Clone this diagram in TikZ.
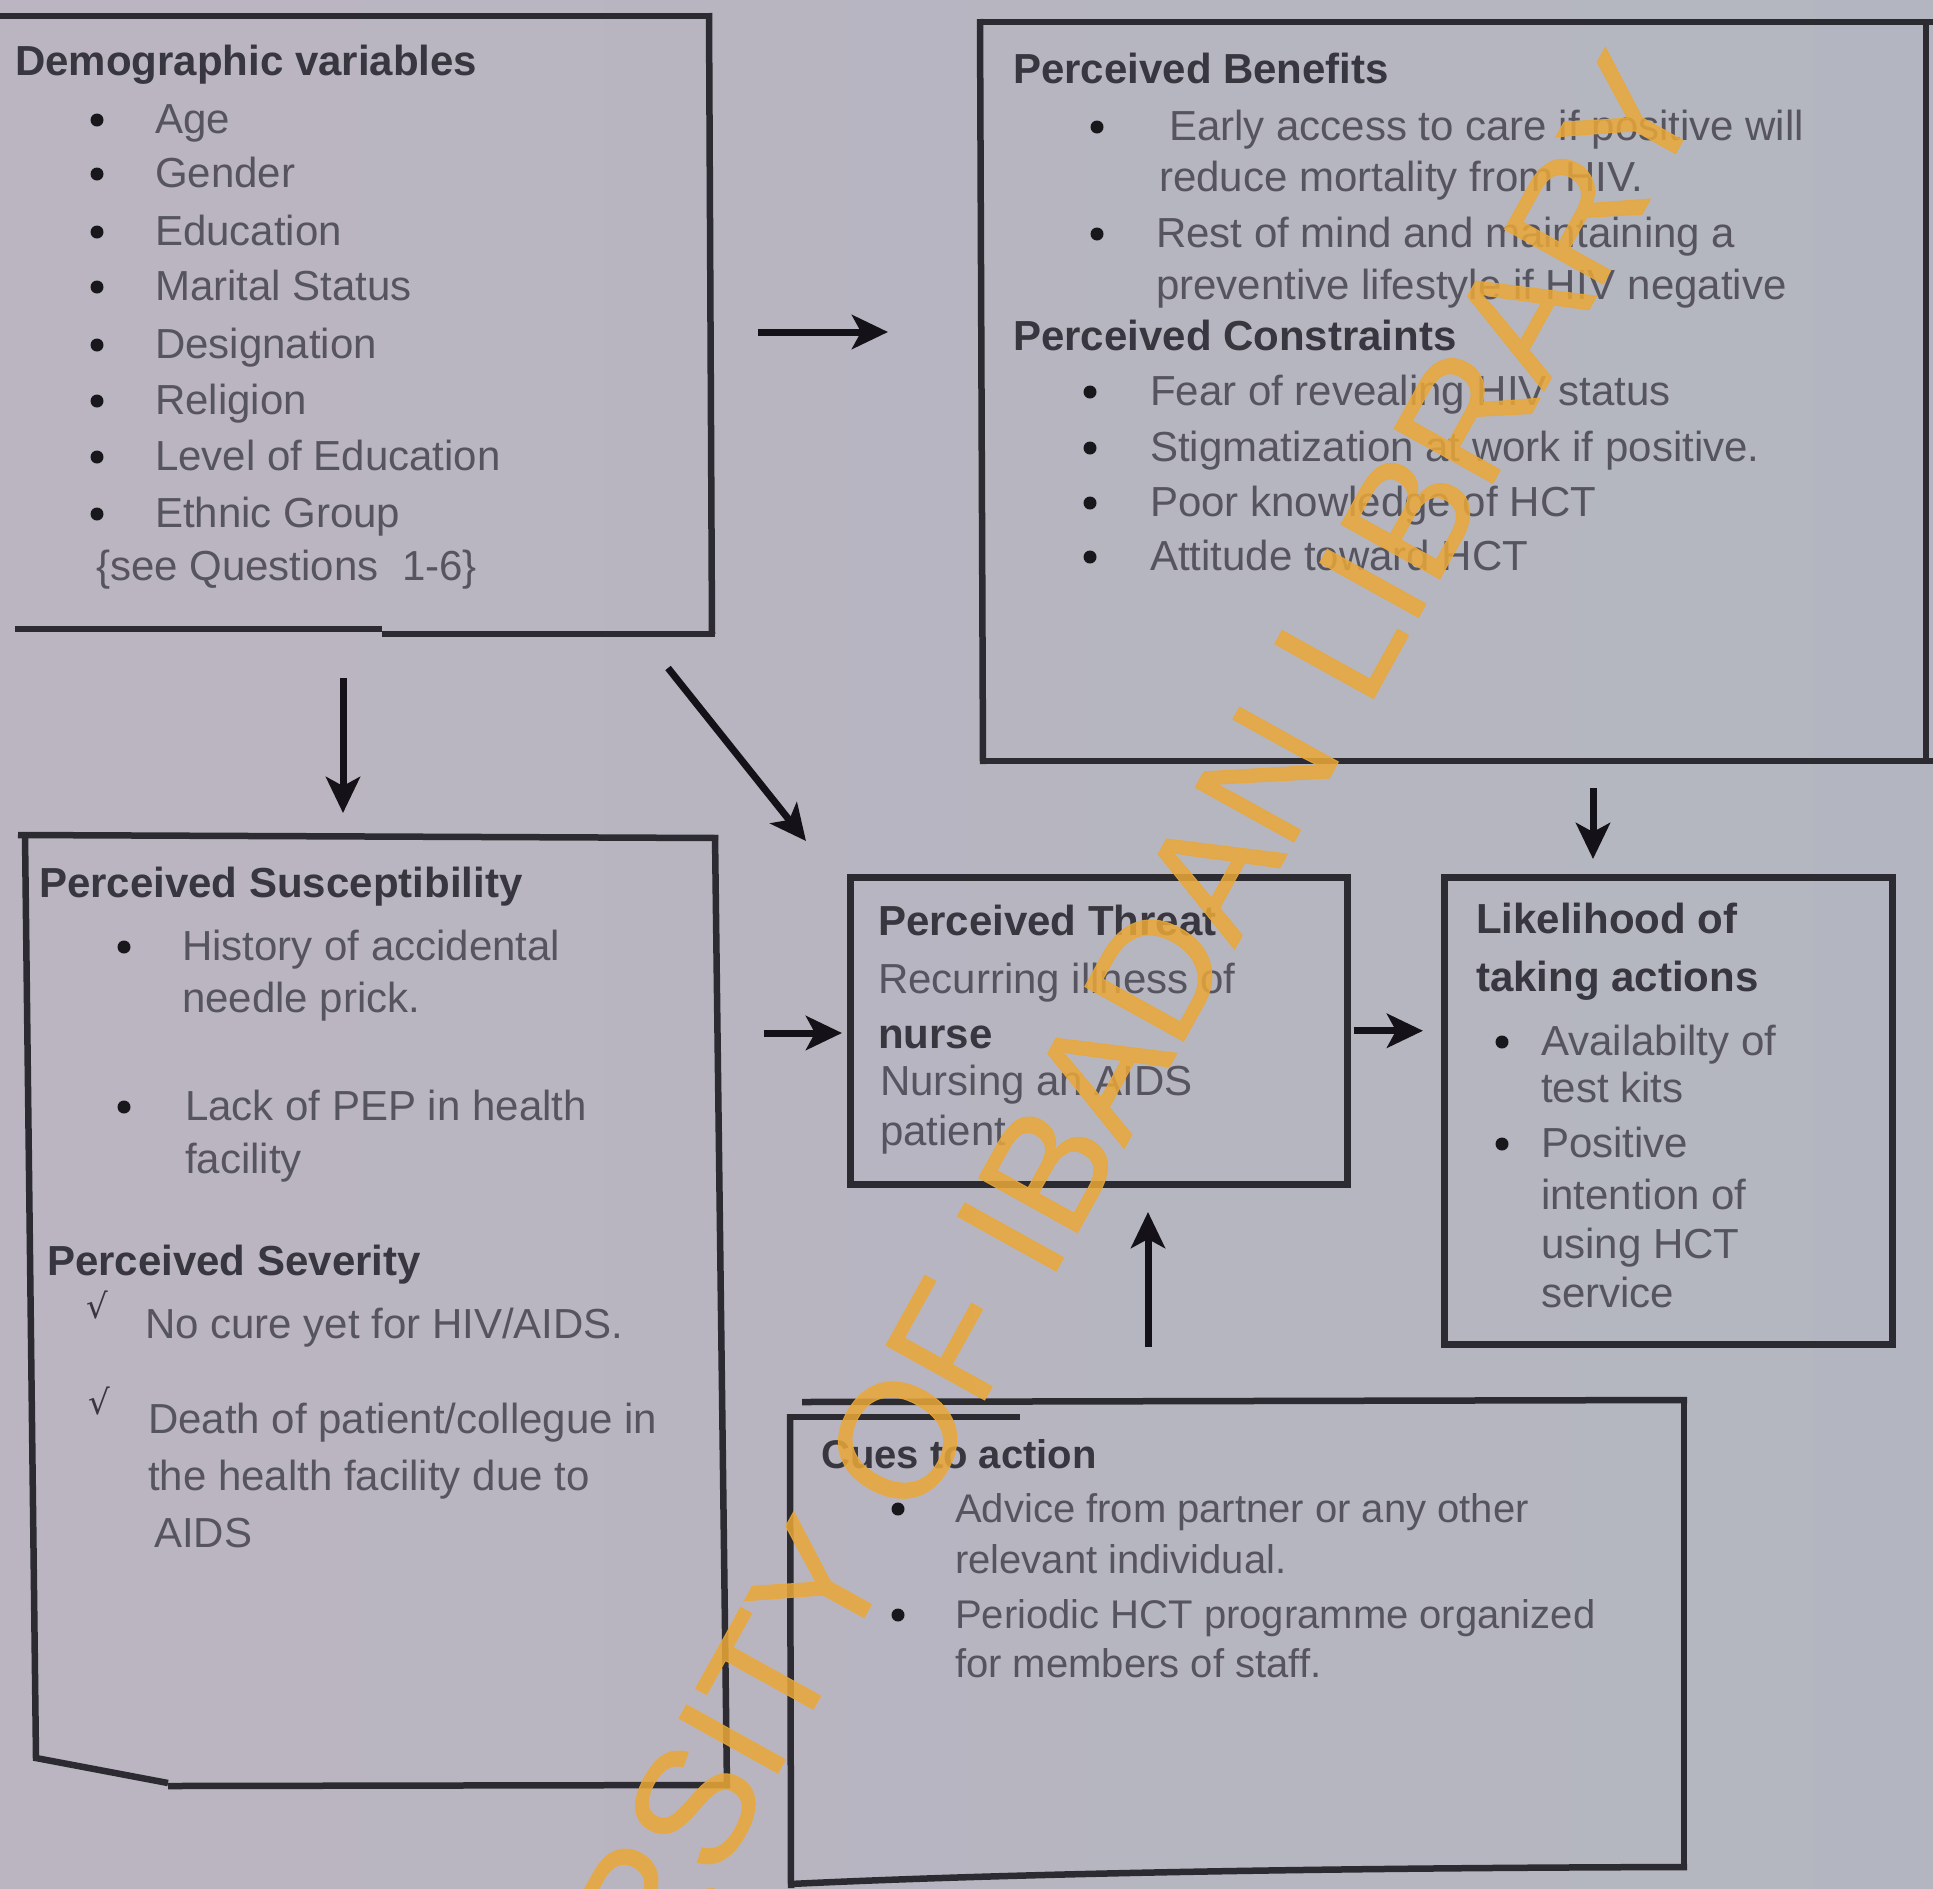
\documentclass[tikz,border=0pt]{standalone}
\usepackage{fontspec}
\setmainfont{Liberation Sans}
\newfontfamily\dejavu{DejaVu Sans}
\newfontfamily\wmfont{Liberation Sans}[FakeBold=0.6]
\usetikzlibrary{arrows.meta,calc}
\definecolor{bgl}{RGB}{187,181,193}
\definecolor{bgr}{RGB}{179,182,192}
\definecolor{linec}{RGB}{44,43,49}
\definecolor{headc}{RGB}{56,54,62}
\definecolor{bodyc}{RGB}{86,84,94}
\definecolor{bulc}{RGB}{24,23,28}
\definecolor{arrc}{RGB}{20,18,24}
\definecolor{wmc}{RGB}{234,168,56}
\begin{document}
\begin{tikzpicture}[x=1pt,y=-1pt,
  every node/.style={inner sep=0pt, anchor=base west},
  body/.style={text=bodyc, font=\fontsize{42}{50}\selectfont},
  head/.style={text=headc, font=\fontsize{42}{50}\selectfont\bfseries},
  cbody/.style={text=bodyc, font=\fontsize{40}{48}\selectfont},
  chead/.style={text=headc, font=\fontsize{40}{48}\selectfont\bfseries},
  tick/.style={text=headc, font=\dejavu\fontsize{34}{40}\selectfont},
  box/.style={draw=linec, line width=6.5pt},
  boxnode/.style={box, anchor=north west, inner sep=0pt},
  arr/.style={draw=arrc, line width=7pt, -{Stealth[length=36pt,width=34pt,inset=9pt]}},
  bul/.style={fill=bulc}
]
\useasboundingbox (0,0) rectangle (1933,1888);
\shade[left color=bgl, right color=bgr] (0,0) rectangle (1933,1888);

% ---------- Demographic variables ----------
\draw[box] (0,16) -- (712,16);
\draw[box] (709,13) -- (712,634);
\draw[box] (15,629) -- (382,629);
\draw[box] (382,634) -- (715,634);
\node[head] (dh) at (15,75) {Demographic variables};
\foreach \t/\yy [count=\k] in {Age/120,Gender/174,Education/232,{Marital Status}/287,Designation/345,Religion/401,{Level of Education}/457,{Ethnic Group}/514}{
  \node[body] (d\k) at (155,\yy+13) {\t};
  \fill[bul] (97,\yy) circle (6.5pt);
}
\node[body] (dq) at (96,580) {\{see Questions\ \ 1-6\}};

% ---------- Perceived Benefits / Constraints ----------
\draw[box] (980,22) -- (1933,22);
\draw[box] (980,19) -- (983,764);
\draw[box] (1926,22) -- (1926,760);
\draw[box] (980,761) -- (1933,761);
\node[head] (bh) at (1013,83) {Perceived Benefits};
\fill[bul] (1097,127) circle (6.5pt);
\node[body] (b1) at (1169,140) {Early access to care if positive will};
\node[body] (b2) at (1159,191) {reduce mortality from HIV.};
\fill[bul] (1097,234) circle (6.5pt);
\node[body] (b3) at (1156,247) {Rest of mind and maintaining a};
\node[body] (b4) at (1156,299) {preventive lifestyle if HIV negative};
\node[head] (ch) at (1013,350) {Perceived Constraints};
\foreach \t/\yy [count=\k] in {{Fear of revealing HIV status}/392,{Stigmatization at work if positive.}/448,{Poor knowledge of HCT}/503,{Attitude toward HCT}/557}{
  \node[body] (c\k) at (1150,\yy+13) {\t};
  \fill[bul] (1090,\yy) circle (6.5pt);
}

% ---------- Perceived Susceptibility / Severity ----------
\draw[box] (18,835) -- (718,838);
\draw[box] (715,835) -- (727,1788);
\draw[box] (25,835) -- (36,1758) -- (168,1783);
\draw[box] (168,1786) -- (730,1785);
\node[head] (sh) at (39,897) {Perceived Susceptibility};
\fill[bul] (124,947) circle (6.5pt);
\node[body] (s1) at (182,960) {History of accidental};
\node[body] (s2) at (182,1012) {needle prick.};
\fill[bul] (124,1107) circle (6.5pt);
\node[body] (s3) at (185,1120) {Lack of PEP in health};
\node[body] (s4) at (185,1173) {facility};
\node[head] (vh) at (47,1275) {Perceived Severity};
\node[tick] (k1) at (86,1318) {√};
\node[body] (v1) at (145,1338) {No cure yet for HIV/AIDS.};
\node[tick] (k2) at (88,1414) {√};
\node[body] (v2) at (148,1433) {Death of patient/collegue in};
\node[body] (v3) at (148,1490) {the health facility due to};
\node[body] (v4) at (154,1547) {AIDS};

% ---------- Perceived Threat ----------
\node[boxnode, minimum width=497pt, minimum height=307pt] (threat) at (847,874) {};
\node[head] (th) at (878,935) {Perceived Threat};
\node[body] (t1) at (878,993) {Recurring illness of};
\node[head] (t2) at (878,1048) {nurse};
\node[body] (t3) at (880,1095) {Nursing an AIDS};
\node[body] (t4) at (880,1145) {patient};

% ---------- Likelihood of taking actions ----------
\node[boxnode, minimum width=448pt, minimum height=467pt] (likeli) at (1441,874) {};
\node[head] (lh1) at (1476,933) {Likelihood of};
\node[head] (lh2) at (1476,991) {taking actions};
\fill[bul] (1502,1042) circle (6.5pt);
\fill[bul] (1502,1144) circle (6.5pt);
\foreach \t/\yy [count=\k] in {{Availabilty of}/1055,{test kits}/1102,{Positive}/1157,{intention of}/1209,{using HCT}/1258,{service}/1307}{
  \node[body] (l\k) at (1541,\yy) {\t};
}

% ---------- Cues to action ----------
\draw[box] (802,1402) -- (1687,1400);
\draw[box] (787,1417) -- (1020,1417);
\draw[box] (790,1414) -- (791,1888);
\draw[box] (1684,1398) -- (1684,1870);
\draw[box] (1687,1867) .. controls (1300,1868) and (1000,1874) .. (790,1884);
\node[chead] (ah) at (821,1468) {Cues to action};
\fill[bul] (898,1509) circle (6.5pt);
\node[cbody] (a1) at (955,1522) {Advice from partner or any other};
\node[cbody] (a2) at (955,1573) {relevant individual.};
\fill[bul] (898,1615) circle (6.5pt);
\node[cbody] (a3) at (955,1628) {Periodic HCT programme organized};
\node[cbody] (a4) at (955,1677) {for members of staff.};

% ---------- connectors ----------
\coordinate (p1s) at (758,332);  \coordinate (p1e) at (888,332);
\coordinate (p2s) at (343,678);  \coordinate (p2e) at (343,813);
\coordinate (p3s) at (668,668);  \coordinate (p3e) at (806,841);
\coordinate (p4s) at (764,1033); \coordinate (p4e) at (842,1033);
\coordinate (p6s) at (1593,788); \coordinate (p6e) at (1593,859);
\coordinate (p7s) at (1148,1347);\coordinate (p7e) at (1148,1212);
\draw[arr] (p1s) -- (p1e);
\draw[arr] (p2s) -- (p2e);
\draw[arr] (p3s) -- (p3e);
\draw[arr] (p4s) -- (p4e);
\draw[arr, shorten <=3pt, shorten >=-2pt] (threat.east) -- ([xshift=-20pt]threat.east -| likeli.west);
\draw[arr] (p6s) -- (p6e);
\draw[arr] (p7s) -- (p7e);

% ---------- watermark ----------
\begin{scope}
\clip (0,0) rectangle (1933,1888);
\node[rotate=61, text=wmc, opacity=0.85, font=\wmfont\fontsize{164}{172}\selectfont] (wm) at (417,2424) {UNIVERSITY OF IBADAN LIBRARY};
\end{scope}
\end{tikzpicture}
\end{document}
